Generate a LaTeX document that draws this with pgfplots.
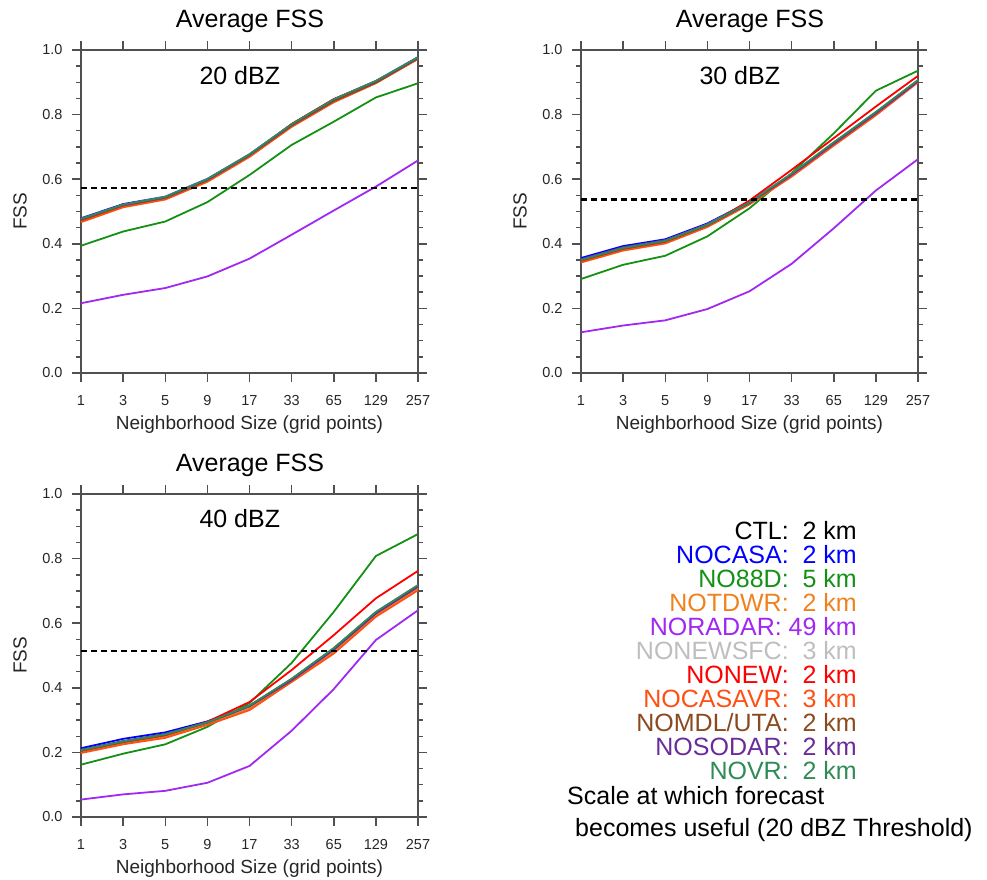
\documentclass[border=0pt]{standalone}
\usepackage{fontspec}
\setmainfont{Liberation Sans}
\usepackage{pgfplots}
\usepackage{pgfplotstable}
\pgfplotsset{compat=1.18}

\definecolor{cctl}{RGB}{0,0,0}
\definecolor{ccasa}{RGB}{0,0,255}
\definecolor{c88d}{RGB}{20,145,20}
\definecolor{ctdwr}{RGB}{240,130,30}
\definecolor{cradar}{RGB}{160,40,240}
\definecolor{cnewsfc}{RGB}{190,190,190}
\definecolor{cnew}{RGB}{255,0,0}
\definecolor{ccasavr}{RGB}{255,80,20}
\definecolor{cmdl}{RGB}{139,74,30}
\definecolor{csodar}{RGB}{106,44,154}
\definecolor{cvr}{RGB}{46,139,87}
\definecolor{axgray}{RGB}{80,80,80}

% FSS, neighborhood index 0..8 = 1,3,5,9,17,33,65,129,257 grid points
\pgfplotstableread{
x ctl nocasa no88d notdwr noradar nonewsfc nonew nocasavr nomdl nosodar novr
0 0.476 0.479 0.394 0.471 0.216 0.477 0.469 0.467 0.474 0.477 0.477
1 0.521 0.523 0.438 0.517 0.242 0.521 0.515 0.513 0.519 0.521 0.521
2 0.544 0.546 0.469 0.540 0.263 0.545 0.539 0.537 0.542 0.544 0.545
3 0.599 0.601 0.529 0.595 0.299 0.600 0.594 0.592 0.597 0.599 0.600
4 0.676 0.677 0.613 0.672 0.354 0.677 0.672 0.669 0.674 0.676 0.677
5 0.769 0.770 0.706 0.765 0.428 0.770 0.771 0.762 0.766 0.769 0.770
6 0.846 0.847 0.778 0.842 0.503 0.847 0.848 0.838 0.842 0.846 0.847
7 0.903 0.904 0.853 0.900 0.577 0.904 0.903 0.897 0.899 0.903 0.904
8 0.976 0.978 0.897 0.973 0.658 0.977 0.975 0.972 0.974 0.976 0.977
}\tabA
\pgfplotstableread{
x ctl nocasa no88d notdwr noradar nonewsfc nonew nocasavr nomdl nosodar novr
0 0.350 0.356 0.291 0.347 0.126 0.351 0.345 0.342 0.348 0.352 0.350
1 0.387 0.393 0.335 0.384 0.147 0.388 0.382 0.379 0.385 0.389 0.387
2 0.409 0.414 0.363 0.406 0.163 0.410 0.405 0.401 0.407 0.411 0.409
3 0.459 0.463 0.423 0.456 0.198 0.460 0.457 0.452 0.457 0.460 0.459
4 0.528 0.530 0.510 0.526 0.253 0.529 0.534 0.522 0.526 0.527 0.528
5 0.616 0.616 0.619 0.613 0.338 0.617 0.629 0.608 0.614 0.614 0.617
6 0.713 0.712 0.742 0.710 0.448 0.714 0.727 0.704 0.711 0.710 0.714
7 0.807 0.806 0.874 0.804 0.565 0.808 0.825 0.798 0.805 0.804 0.808
8 0.906 0.905 0.936 0.904 0.662 0.907 0.920 0.900 0.905 0.903 0.907
}\tabB
\pgfplotstableread{
x ctl nocasa no88d notdwr noradar nonewsfc nonew nocasavr nomdl nosodar novr
0 0.207 0.213 0.162 0.200 0.054 0.207 0.205 0.198 0.205 0.208 0.207
1 0.234 0.242 0.196 0.228 0.070 0.234 0.232 0.225 0.232 0.235 0.234
2 0.256 0.262 0.225 0.250 0.081 0.256 0.253 0.245 0.254 0.257 0.256
3 0.293 0.296 0.279 0.288 0.106 0.293 0.295 0.285 0.292 0.293 0.293
4 0.344 0.345 0.353 0.335 0.158 0.344 0.356 0.331 0.342 0.343 0.345
5 0.427 0.425 0.477 0.420 0.267 0.427 0.455 0.418 0.424 0.424 0.428
6 0.522 0.519 0.635 0.512 0.396 0.522 0.563 0.506 0.519 0.518 0.523
7 0.634 0.631 0.808 0.625 0.548 0.634 0.677 0.620 0.631 0.630 0.635
8 0.717 0.714 0.876 0.708 0.640 0.717 0.762 0.702 0.714 0.713 0.718
}\tabC

\pgfplotsset{
  fss/.style={
    scale only axis, width=337pt, height=323pt,
    anchor=south west,
    xmin=0, xmax=8, ymin=0, ymax=1,
    xtick={0,...,8}, xticklabels={1,3,5,9,17,33,65,129,257},
    ytick={0,0.2,0.4,0.6,0.8,1.0}, minor y tick num=3,
    yticklabel style={/pgf/number format/fixed, /pgf/number format/fixed zerofill,
      /pgf/number format/precision=1},
    /pgf/number format/assume math mode=true,
    tick align=outside, major tick length=9pt, minor tick length=5pt,
    tick style={axgray, line width=1.5pt},
    axis line style={axgray, line width=1.8pt},
    tick label style={font=\fontsize{14.5}{17}\selectfont, text=black!85},
    xticklabel shift=10pt, yticklabel shift=6pt,
    xlabel={Neighborhood Size (grid points)}, ylabel={FSS},
    label style={font=\fontsize{19}{22}\selectfont, text=black!85},
    xlabel style={at={(axis description cs:0.5,-0.16)}, anchor=center},
    ylabel style={at={(axis description cs:-0.181,0.5)}, anchor=center, rotate=0},
    every axis plot/.append style={line width=1.8pt, no marks},
    clip=false,
  },
}

\newcommand\fssplots[2]{%
  \addplot[cctl] table[x=x,y=ctl] {#1};
  \addplot[ccasa] table[x=x,y=nocasa] {#1};
  \addplot[c88d] table[x=x,y=no88d] {#1};
  \addplot[ctdwr] table[x=x,y=notdwr] {#1};
  \addplot[cradar] table[x=x,y=noradar] {#1};
  \addplot[cnewsfc] table[x=x,y=nonewsfc] {#1};
  \addplot[cnew] table[x=x,y=nonew] {#1};
  \addplot[ccasavr] table[x=x,y=nocasavr] {#1};
  \addplot[cmdl] table[x=x,y=nomdl] {#1};
  \addplot[csodar] table[x=x,y=nosodar] {#1};
  \addplot[cvr] table[x=x,y=novr] {#1};
  \addplot[black, line width=2.2pt, dash pattern=on 6pt off 4pt] coordinates {(0,#2) (8,#2)};
}

\begin{document}
\begin{tikzpicture}
\useasboundingbox (0,0) rectangle (987pt,879pt);

\begin{axis}[fss, at={(81pt,506pt)}]
\fssplots{\tabA}{0.572}
\node[anchor=base, font=\fontsize{25}{30}\selectfont] at (axis cs:3.77,0.892) {20 dBZ};
\end{axis}

\begin{axis}[fss, at={(581pt,506pt)}]
\fssplots{\tabB}{0.537}
\node[anchor=base, font=\fontsize{25}{30}\selectfont] at (axis cs:3.77,0.892) {30 dBZ};
\end{axis}

\begin{axis}[fss, at={(81pt,62pt)}]
\fssplots{\tabC}{0.513}
\node[anchor=base, font=\fontsize{25}{30}\selectfont] at (axis cs:3.77,0.895) {40 dBZ};
\end{axis}

\begin{scope}[every node/.style={font=\fontsize{25}{30}\selectfont, inner sep=0pt}]
\node[anchor=base] at (250pt,851pt) {Average FSS};
\node[anchor=base] at (750pt,851pt) {Average FSS};
\node[anchor=base] at (250pt,407pt) {Average FSS};

\node[anchor=base east, text=cctl]    at (857pt,339.5pt) {CTL:\ \ 2 km};
\node[anchor=base east, text=ccasa]   at (857pt,315.5pt) {NOCASA:\ \ 2 km};
\node[anchor=base east, text=c88d]    at (857pt,291.5pt) {NO88D:\ \ 5 km};
\node[anchor=base east, text=ctdwr]   at (857pt,267.5pt) {NOTDWR:\ \ 2 km};
\node[anchor=base east, text=cradar]  at (857pt,243.5pt) {NORADAR: 49 km};
\node[anchor=base east, text=cnewsfc] at (857pt,219.5pt) {NONEWSFC:\ \ 3 km};
\node[anchor=base east, text=cnew]    at (857pt,195.5pt) {NONEW:\ \ 2 km};
\node[anchor=base east, text=ccasavr] at (857pt,171.5pt) {NOCASAVR:\ \ 3 km};
\node[anchor=base east, text=cmdl]    at (857pt,147.5pt) {NOMDL/UTA:\ \ 2 km};
\node[anchor=base east, text=csodar]  at (857pt,123.5pt) {NOSODAR:\ \ 2 km};
\node[anchor=base east, text=cvr]     at (857pt,99.5pt) {NOVR:\ \ 2 km};
\node[anchor=base west] at (567pt,75pt) {Scale at which forecast};
\node[anchor=base west] at (575pt,42.5pt) {becomes useful (20 dBZ Threshold)};
\end{scope}
\end{tikzpicture}
\end{document}
